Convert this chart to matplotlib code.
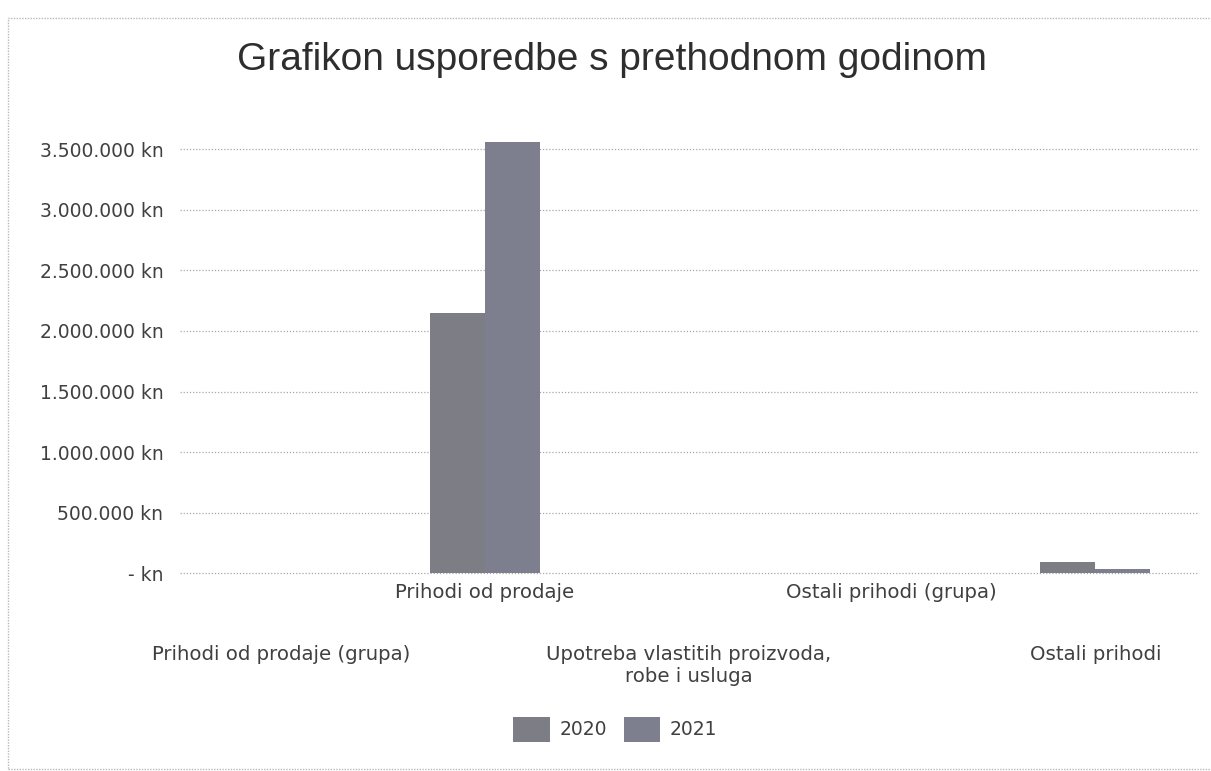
import matplotlib
matplotlib.use("Agg")
import matplotlib.pyplot as plt
from matplotlib import ticker
from matplotlib.patches import Rectangle
import numpy as np

# data
categories = ["Prihodi od prodaje (grupa)", "Prihodi od prodaje",
              "Upotreba vlastitih proizvoda,\nrobe i usluga",
              "Ostali prihodi (grupa)", "Ostali prihodi"]
years = ["2020", "2021"]
values_2020 = [0, 2150000, 0, 0, 90000]
values_2021 = [0, 3565000, 0, 0, 29000]
yticks = [0, 500000, 1000000, 1500000, 2000000, 2500000, 3000000, 3500000]

c2020 = '#7d7d85'
c2021 = '#7e7f8e'
txt = '#404040'


def kn(x, pos):
    if x == 0:
        return "- kn"
    return "{:,.0f} kn".format(x).replace(",", ".")


fig = plt.figure(figsize=(12.11, 7.71), dpi=100)
ax = fig.add_axes([0.1486, 0.2568, 0.8398, 0.565])

x = np.arange(len(categories))
w = 0.27
ax.bar(x - w / 2, values_2020, w, color=c2020, label=years[0])
ax.bar(x + w / 2, values_2021, w, color=c2021, label=years[1])

ax.set_xlim(-0.5, len(categories) - 0.5)
ax.set_ylim(0, 3600000)
ax.set_yticks(yticks)
ax.yaxis.set_major_formatter(ticker.FuncFormatter(kn))
ax.yaxis.grid(True, color='#a8a8a8', linestyle=(0, (1, 1.5)), linewidth=0.9)
for gl in ax.get_ygridlines():
    gl.set_clip_on(False)
ax.set_axisbelow(True)
for s in ax.spines.values():
    s.set_visible(False)
ax.tick_params(axis='y', length=0, pad=12, labelsize=13.5, labelcolor=txt)

ax.set_xticks(x)
ax.set_xticklabels(categories, fontsize=14.2, color=txt, multialignment='center')
ax.tick_params(axis='x', length=0)
# staggered labels like Excel
for i, t in enumerate(ax.xaxis.get_major_ticks()):
    t.set_pad(7 if i % 2 == 1 else 52)

fig.text(0.505, 0.922, "Grafikon usporedbe s prethodnom godinom",
         ha='center', va='center', fontsize=28, color='#2e2e2e',
         family='Liberation Sans')

fig.legend(loc='center', bbox_to_anchor=(0.508, 0.054), ncol=2, frameon=False,
           fontsize=13.5, handlelength=1.95, handleheight=1.7, columnspacing=0.9,
           handletextpad=0.5, labelcolor=txt)

# chart border from the scan
fig.patches.append(Rectangle((8 / 1211, 2 / 771), 1.0, 1 - 20 / 771,
                             transform=fig.transFigure, fill=False,
                             edgecolor='#b8b8b8', linewidth=1.0,
                             linestyle=(0, (1, 1))))

fig.savefig("out.png", dpi=100)
